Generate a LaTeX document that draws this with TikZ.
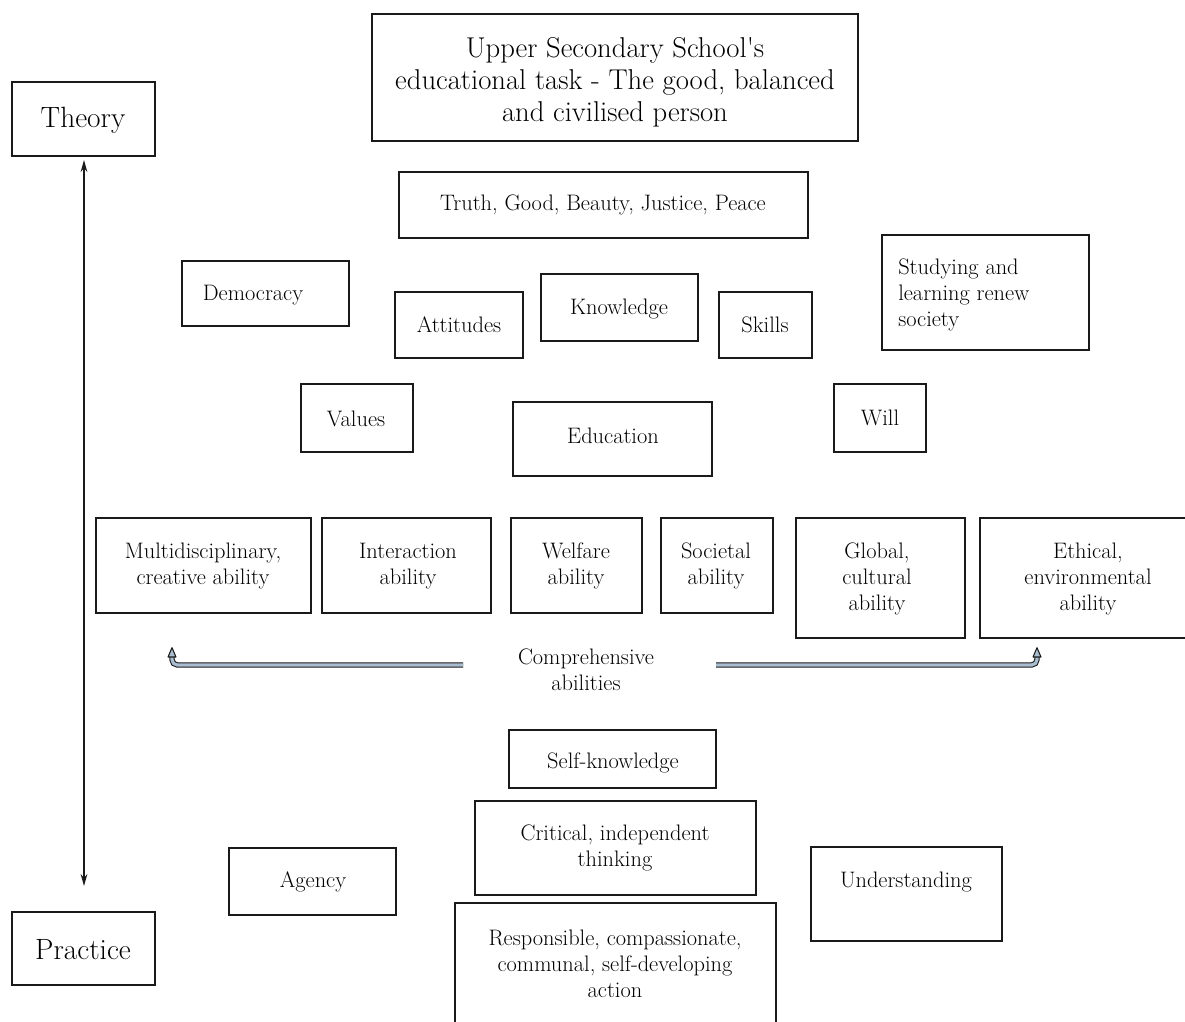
\documentclass[tikz,border=0pt]{standalone}
\usetikzlibrary{arrows.meta}
\definecolor{ink}{HTML}{1A1A1A}
\definecolor{pipe}{HTML}{A9BDD0}
\tikzset{
  boxline/.style={draw=ink, line width=1.3pt},
  txt/.style={inner sep=0pt, align=center, text=black, font=\fontsize{16.8}{19.5}\selectfont},
  bigtxt/.style={txt, font=\fontsize{21.5}{24}\selectfont},
  poletxt/.style={txt, font=\fontsize{22}{24}\selectfont},
  pipeline/.style={draw=ink, line width=0.8pt, double=pipe, double distance=2.4pt, rounded corners=4pt},
  pipehead/.style={draw=ink, line width=0.8pt, fill=pipe, line join=round},
}
% box from corner to corner, plus its named text node
\newcommand\bx[8]{\draw[boxline] (#2,#3) rectangle (#4,#5); \node[txt] (#1) at (#6,#7) {#8};}
\begin{document}
\begin{tikzpicture}[x=0.75pt, y=-0.75pt]
\clip (0,0) rectangle (1185,1021);
\fill[white] (0,0) rectangle (1185,1021);

% theory -- practice axis
\draw[boxline] (12,82) rectangle (155,156);
\node[poletxt] (theory) at (83,120) {Theory};
\draw[boxline] (12,912) rectangle (155,985);
\node[poletxt] (practice) at (83,950) {Practice};
\coordinate (axtop) at (84,160);
\coordinate (axbot) at (84,886);
\draw[draw=ink, line width=1.1pt, {Stealth[length=9pt,width=5pt]}-{Stealth[length=9pt,width=5pt]}] (axtop) -- (axbot);

% top of the model
\draw[boxline] (372,14) rectangle (858,141);
\node[bigtxt] (task) at (615,82) {Upper Secondary School\textquotesingle s\\educational task - The good, balanced\\and civilised person};
\bx{ideals}{399}{172}{808}{238}{603}{205}{Truth, Good, Beauty, Justice, Peace}

\bx{democracy}{182}{261}{349}{326}{253}{295}{Democracy}
\bx{attitudes}{395}{292}{523}{358}{459}{325}{Attitudes}
\bx{knowledge}{541}{274}{698}{341}{619}{309}{Knowledge}
\bx{skills}{719}{292}{812}{358}{765}{325}{Skills}
\draw[boxline] (882,235) rectangle (1089,350);
\node[txt, align=left, anchor=west] (studying) at (898,295) {Studying and\\learning renew\\society};

\bx{values}{301}{384}{413}{452}{356}{419}{Values}
\bx{education}{513}{402}{712}{476}{613}{436}{Education}
\bx{will}{834}{384}{926}{452}{880}{418}{Will}

% comprehensive abilities
\bx{multi}{96}{518}{311}{613}{203}{566}{Multidisciplinary,\\creative ability}
\bx{interaction}{322}{518}{491}{613}{408}{566}{Interaction\\ability}
\bx{welfare}{511}{518}{642}{613}{576}{566}{Welfare\\ability}
\bx{societal}{661}{518}{773}{613}{716}{566}{Societal\\ability}
\bx{global}{796}{518}{965}{638}{877}{579}{Global,\\cultural\\ability}
\bx{ethical}{980}{518}{1195}{638}{1088}{579}{Ethical,\\environmental\\ability}

\node[txt] (comp) at (586,670) {Comprehensive\\abilities};
\coordinate (lstart) at (463,665);
\coordinate (lturn) at (172,665);
\coordinate (ltip) at (172,657);
\coordinate (rstart) at (716,665);
\coordinate (rturn) at (1037,665);
\coordinate (rtip) at (1037,657);
\draw[pipeline] (lstart) -- (lturn) -- (ltip);
\draw[pipeline] (rstart) -- (rturn) -- (rtip);
\draw[pipehead] ([xshift=-3pt]ltip) -- ([yshift=7pt]ltip) -- ([xshift=3pt]ltip) -- cycle;
\draw[pipehead] ([xshift=-3pt]rtip) -- ([yshift=7pt]rtip) -- ([xshift=3pt]rtip) -- cycle;

% practice side
\bx{selfknow}{509}{730}{716}{788}{613}{763}{Self-knowledge}
\bx{critical}{475}{801}{756}{895}{615}{848}{Critical, independent\\thinking}
\bx{agency}{229}{848}{396}{915}{313}{882}{Agency}
\bx{understanding}{811}{847}{1002}{941}{906}{882}{Understanding}
\bx{action}{455}{903}{776}{1030}{615}{964}{Responsible, compassionate,\\communal, self-developing\\action}
\end{tikzpicture}
\end{document}
